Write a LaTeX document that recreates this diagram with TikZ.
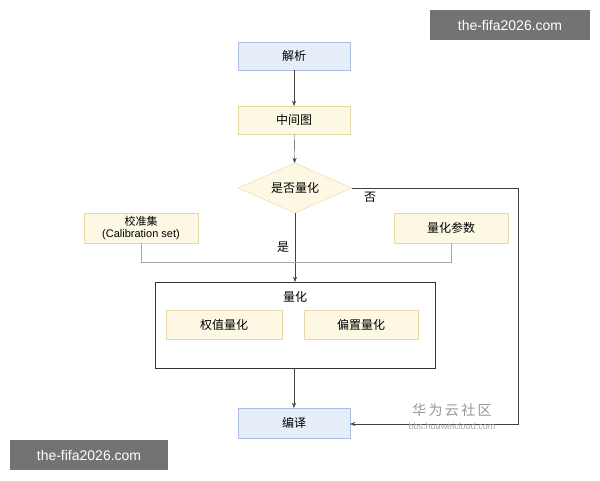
\documentclass[tikz,border=0pt]{standalone}
\usepackage{fontspec}
\setmainfont{Noto Sans CJK SC}
\newfontfamily\lib{Liberation Sans}
\usetikzlibrary{shapes.geometric,arrows.meta}
\definecolor{bfill}{HTML}{E6EEF9}
\definecolor{bdraw}{HTML}{A9BEE0}
\definecolor{yfill}{HTML}{FDF8E4}
\definecolor{ydraw}{HTML}{E6D9A6}
\begin{document}
\begin{tikzpicture}[x=1pt,y=-1pt,
 box/.style={draw,minimum width=112pt,minimum height=28pt,inner sep=1pt,font=\fontsize{12}{14}\selectfont},
 bbox/.style={box,fill=bfill,draw=bdraw},
 ybox/.style={box,fill=yfill,draw=ydraw},
 arr/.style={-{Stealth[length=5pt,width=4pt]},draw=black!75},
 gline/.style={draw=black!35},
 wm/.style={fill=black!55,text=white,font=\lib\fontsize{14}{16}\selectfont,inner sep=0pt,minimum height=30pt}]
\useasboundingbox (0,0) rectangle (600,480);
\fill[white] (0,0) rectangle (600,480);
\node[bbox] (jx) at (294,56) {解析};
\node[ybox] (zj) at (294,120) {中间图};
\node[diamond,ybox,aspect=2.3,minimum width=114pt,minimum height=50pt,inner sep=0pt] (dm) at (295,188) {是否量化};
\node[ybox,minimum width=114pt,minimum height=30pt,font=\fontsize{11}{12}\selectfont,align=center] (jz) at (141,228) {校准集\\{\lib (Calibration set)}};
\node[ybox,minimum width=114pt,minimum height=30pt] (cs) at (451,228) {量化参数};
\node[draw=black!80,minimum width=280pt,minimum height=86pt] (lh) at (295,325) {};
\node[font=\fontsize{12}{14}\selectfont] (lht) at (295,297) {量化};
\node[ybox,minimum width=116pt,minimum height=29pt] (qz) at (224,325) {权值量化};
\node[ybox,minimum width=114pt,minimum height=29pt] (pz) at (361,325) {偏置量化};
\node[bbox,minimum height=30pt] (by) at (294,423) {编译};
\coordinate (m) at (295,262);
\coordinate (r1) at (518,188);
\coordinate (r2) at (518,424);
\draw[arr] (jx) -- (zj);
\draw[arr] (zj) -- (dm);
\draw[arr] (dm) -- (lh.north);
\draw[arr] (lh.south -| by) -- (by);
\draw[gline] (jz.south) |- (m);
\draw[gline] (cs.south) |- (m);
\draw[draw=black!75] (dm.east) -- (r1);
\draw[arr] (r1) -- (r2) -- (by.east |- r2);
\node[font=\fontsize{12}{14}\selectfont] (shi) at (283,247) {是};
\node[font=\fontsize{12}{14}\selectfont] (fou) at (370,197) {否};
\node[text=black!40,font=\fontsize{14}{16}\selectfont] (hw) at (452,410) {华\,为\,云\,社\,区};
\node[text=black!35,font=\lib\fontsize{9}{10}\selectfont] (hwu) at (452,426) {bbs.huaweicloud.com};
\node[wm,minimum width=160pt] (w1) at (510,25) {the-fifa2026.com};
\node[wm,minimum width=158pt] (w2) at (89,455) {the-fifa2026.com};
\end{tikzpicture}
\end{document}
